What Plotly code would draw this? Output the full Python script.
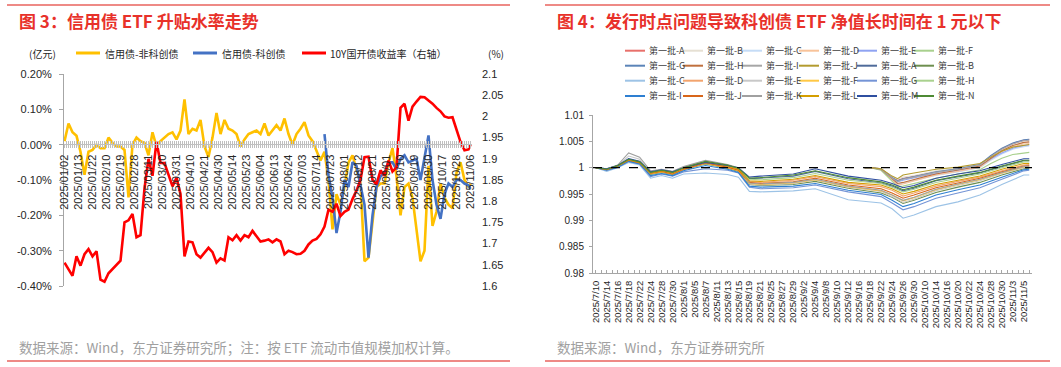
import plotly.graph_objects as go
import pandas as pd

W, H = 1061, 367


def px(x):
    return x / W


def py(y):
    return 1 - y / H


# ---------------- Figure 3 : credit-bond ETF premium/discount ----------------
cn_holidays = ["2025-01-01", "2025-01-28", "2025-01-29", "2025-01-30", "2025-01-31",
               "2025-02-03", "2025-02-04", "2025-04-04", "2025-05-01", "2025-05-02",
               "2025-05-05", "2025-06-02", "2025-10-01", "2025-10-02", "2025-10-03",
               "2025-10-06", "2025-10-07", "2025-10-08"]
trade_days = pd.bdate_range("2025-01-02", "2025-11-06", freq="C", holidays=cn_holidays)
fig3_categories = [d.strftime("%Y/%m/%d") for d in trade_days]          # 204 trading days
fig3_ticktext = [c if k % 7 == 0 else "" for k, c in enumerate(fig3_categories)]

# values read every second trading day (plus the last day)
fig3_sample_dates = fig3_categories[0:203:2] + [fig3_categories[203]]
nonsci_premium = [  # 信用债-非科创债, %
    0.01, 0.06, 0.035, 0.025, -0.02, -0.085, -0.02, -0.015, 0.0, -0.01,
    -0.01, 0.02, 0.005, -0.005, -0.005, -0.015, -0.149, 0.0, 0.02, 0.01,
    0.005, -0.03, 0.035, -0.005, 0.01, 0.02, 0.03, 0.035, 0.015, 0.04,
    0.128, 0.03, 0.045, 0.04, 0.07, -0.005, -0.035, 0.02, 0.09, 0.03,
    0.07, 0.045, 0.04, 0.03, -0.005, 0.015, 0.03, 0.035, 0.04, 0.03,
    0.06,
    0.026, 0.04, 0.055, 0.04, 0.074, 0.03, 0.0, 0.03, 0.045, 0.064,
    0.026, 0.01, -0.015, -0.045, -0.02, -0.1, -0.24, -0.14, -0.17, -0.12,
    -0.05, -0.03, -0.07, -0.11, -0.33, -0.32, -0.22, -0.12, -0.11, -0.11,
    -0.05, -0.01, -0.09, -0.2, -0.12, -0.11, -0.15, -0.24, -0.33, -0.3,
    -0.06, -0.23, -0.19, -0.11, -0.15, -0.17, -0.18, -0.08, -0.05, -0.1,
    -0.12,
    -0.11,
]
cdb10y_yield = [  # 10Y国开债收益率, %
    1.655, 1.64, 1.624, 1.67, 1.648, 1.675, 1.687, 1.67, 1.682, 1.615,
    1.61, 1.63, 1.64, 1.65, 1.66, 1.75, 1.755, 1.77, 1.715, 1.72,
    1.83, 1.9, 1.86, 1.94, 1.89, 1.89, 1.86, 1.835, 1.855, 1.817,
    1.67, 1.705, 1.703, 1.675, 1.667, 1.68, 1.69, 1.68, 1.655, 1.665,
    1.66, 1.715, 1.708, 1.72, 1.707, 1.72, 1.715, 1.73, 1.718, 1.705,
    1.707,
    1.71, 1.703, 1.71, 1.705, 1.675, 1.683, 1.68, 1.675, 1.676, 1.683,
    1.698, 1.707, 1.711, 1.722, 1.74, 1.78, 1.775, 1.794, 1.765, 1.775,
    1.78, 1.805, 1.825, 1.85, 1.904, 1.905, 1.85, 1.84, 1.873, 1.86,
    1.896, 1.87, 1.88, 2.02, 2.03, 1.99, 2.023, 2.035, 2.046, 2.045,
    2.038, 2.03, 2.02, 2.012, 2.0, 1.997, 1.998, 1.97, 1.94, 1.92,
    1.922,
    1.933,
]
sci_dates = fig3_categories[130:203:2] + [fig3_categories[203]]
sci_premium = [  # 信用债-科创债, %
    0.03, -0.087, -0.15, -0.25, -0.19, -0.1, -0.12, -0.05, -0.06, -0.12,
    -0.17, -0.32, -0.2, -0.12, -0.09, -0.08, -0.05, -0.05, -0.07, -0.04,
    -0.03, -0.05, -0.045, -0.04, -0.1, -0.04, 0.026, -0.1, -0.17, -0.21,
    -0.14, -0.11, -0.12, -0.1, -0.1, -0.11, -0.115,
    -0.125,
]
fig3_left_ticks = [0.2, 0.1, 0.0, -0.1, -0.2, -0.3, -0.4]
fig3_left_text = ["0.20%", "0.10%", "0.00%", "-0.10%", "-0.20%", "-0.30%", "-0.40%"]
fig3_right_ticks = [2.1, 2.05, 2.0, 1.95, 1.9, 1.85, 1.8, 1.75, 1.7, 1.65, 1.6]
fig3_right_text = ["2.1", "2.05", "2", "1.95", "1.9", "1.85", "1.8", "1.75", "1.7", "1.65", "1.6"]
fig3_series_names = ["信用债-非科创债", "信用债-科创债", "10Y国开债收益率（右轴）"]
fig3_colors = ["#FFC000", "#4472C4", "#FF0000"]

# ---------------- Figure 4 : sci-tech bond ETF NAV ----------------
fig4_days = [d for d in trade_days if d >= pd.Timestamp("2025-07-10")]
fig4_categories = [f"{d.year}/{d.month}/{d.day}" for d in fig4_days]   # 80 days
fig4_ticktext = [c if k % 2 == 0 else "" for k, c in enumerate(fig4_categories)]

# legend entries 1-10: NAV series that start on 2025/9/17
late_dates = ["2025/9/17", "2025/9/18", "2025/9/22", "2025/9/24", "2025/9/25", "2025/9/26",
              "2025/9/30", "2025/10/10", "2025/10/14", "2025/10/20", "2025/10/24",
              "2025/10/28", "2025/10/30", "2025/11/3", "2025/11/5", "2025/11/6"]
late_names = ["第一批-A", "第一批-B", "第一批-C", "第一批-D", "第一批-E",
              "第一批-F", "第一批-G", "第一批-H", "第一批-I", "第一批-J"]
late_colors = ["#E8706B", "#E6E0D3", "#C5DCF6", "#F8C39A", "#8FA3F2",
               "#A8D08D", "#5B84B8", "#C0703E", "#A6A6A6", "#B39B2F"]
nav_late_A = [1.0000, 1.0000, 0.9998, 0.9982, 0.9976, 0.9980, 0.9984, 0.9988, 0.9992, 0.9998, 1.0006, 1.0022, 1.0036, 1.0046, 1.0052, 1.0053]
nav_late_B = [1.0000, 1.0000, 0.9998, 0.9983, 0.9978, 0.9982, 0.9985, 0.9990, 0.9994, 0.9999, 1.0007, 1.0020, 1.0033, 1.0042, 1.0047, 1.0048]
nav_late_C = [1.0000, 1.0000, 0.9996, 0.9977, 0.9969, 0.9971, 0.9976, 0.9980, 0.9985, 0.9992, 1.0000, 1.0014, 1.0026, 1.0035, 1.0040, 1.0041]
nav_late_D = [1.0000, 1.0000, 0.9996, 0.9976, 0.9967, 0.9969, 0.9975, 0.9981, 0.9986, 0.9993, 1.0001, 1.0016, 1.0030, 1.0040, 1.0045, 1.0046]
nav_late_E = [1.0000, 1.0000, 0.9997, 0.9980, 0.9973, 0.9976, 0.9981, 0.9985, 0.9989, 0.9995, 1.0003, 1.0017, 1.0028, 1.0037, 1.0042, 1.0043]
nav_late_F = [1.0000, 1.0000, 0.9995, 0.9973, 0.9964, 0.9965, 0.9970, 0.9975, 0.9980, 0.9988, 0.9996, 1.0008, 1.0018, 1.0025, 1.0028, 1.0029]
nav_late_G = [1.0000, 1.0000, 0.9998, 0.9981, 0.9975, 0.9979, 0.9983, 0.9988, 0.9992, 0.9998, 1.0006, 1.0023, 1.0037, 1.0047, 1.0053, 1.0054]
nav_late_H = [1.0000, 1.0000, 0.9997, 0.9978, 0.9970, 0.9972, 0.9978, 0.9983, 0.9988, 0.9995, 1.0003, 1.0018, 1.0032, 1.0042, 1.0048, 1.0049]
nav_late_I = [1.0000, 1.0000, 0.9997, 0.9980, 0.9974, 0.9978, 0.9982, 0.9986, 0.9991, 0.9997, 1.0005, 1.0021, 1.0035, 1.0045, 1.0051, 1.0052]
nav_late_J = [1.0000, 1.0000, 0.9998, 0.9984, 0.9979, 0.9986, 0.9990, 0.9994, 0.9997, 1.0001, 1.0008, 1.0020, 1.0031, 1.0039, 1.0043, 1.0044]
late_navs = [nav_late_A, nav_late_B, nav_late_C, nav_late_D, nav_late_E,
             nav_late_F, nav_late_G, nav_late_H, nav_late_I, nav_late_J]

# legend entries 11-24: NAV series that start on 2025/7/10
early_dates = ["2025/7/10", "2025/7/14", "2025/7/16", "2025/7/18", "2025/7/22", "2025/7/24",
               "2025/7/28", "2025/7/30", "2025/8/1", "2025/8/7", "2025/8/13", "2025/8/15",
               "2025/8/19", "2025/8/21", "2025/8/29", "2025/9/4", "2025/9/12", "2025/9/22",
               "2025/9/24", "2025/9/26", "2025/9/30", "2025/10/14", "2025/10/20", "2025/10/24",
               "2025/10/30", "2025/11/5", "2025/11/6"]
early_names = ["第一批-A", "第一批-B", "第一批-C", "第一批-D", "第一批-E", "第一批-F", "第一批-G",
               "第一批-H", "第一批-I", "第一批-J", "第一批-K", "第一批-L", "第一批-M", "第一批-N"]
early_colors = ["#4F6B9A", "#6E8F4F", "#9DC3E6", "#F2A46E", "#C8C8C8", "#FFC845", "#7494D6",
                "#A9D18E", "#2E7FD1", "#D8661A", "#A0A0A0", "#D49E00", "#2F4FA0", "#4E8A34"]
nav_early_A = [1.0000, 0.9998, 1.0004, 1.0016, 1.0011, 0.9991, 0.9995, 0.9991, 1.0000, 1.0010, 1.0003, 0.9998, 0.9979, 0.9980, 0.9984, 0.9993, 0.9979, 0.9971, 0.9965, 0.9956, 0.9961, 0.9975, 0.9983, 0.9990, 1.0002, 1.0013, 1.0013]
nav_early_B = [1.0000, 0.9996, 1.0002, 1.0013, 1.0008, 0.9987, 0.9991, 0.9987, 0.9996, 1.0007, 0.9999, 0.9993, 0.9968, 0.9966, 0.9968, 0.9974, 0.9961, 0.9952, 0.9944, 0.9932, 0.9938, 0.9953, 0.9963, 0.9972, 0.9986, 0.9998, 0.9999]
nav_early_C = [1.0000, 0.9993, 1.0000, 1.0010, 1.0005, 0.9980, 0.9985, 0.9980, 0.9988, 0.9990, 0.9987, 0.9982, 0.9955, 0.9954, 0.9956, 0.9960, 0.9939, 0.9933, 0.9922, 0.9904, 0.9910, 0.9926, 0.9935, 0.9948, 0.9968, 0.9986, 0.9986]
nav_early_D = [1.0000, 0.9997, 1.0003, 1.0016, 1.0011, 0.9990, 0.9994, 0.9989, 0.9998, 1.0010, 1.0002, 0.9996, 0.9974, 0.9972, 0.9976, 0.9983, 0.9970, 0.9964, 0.9957, 0.9946, 0.9952, 0.9965, 0.9974, 0.9982, 0.9994, 1.0005, 1.0006]
nav_early_E = [1.0000, 0.9997, 1.0004, 1.0022, 1.0016, 0.9992, 0.9996, 0.9992, 1.0001, 1.0012, 1.0004, 0.9998, 0.9969, 0.9967, 0.9970, 0.9976, 0.9963, 0.9955, 0.9945, 0.9934, 0.9940, 0.9956, 0.9966, 0.9975, 0.9989, 1.0000, 1.0001]
nav_early_F = [1.0000, 0.9996, 1.0002, 1.0015, 1.0010, 0.9988, 0.9992, 0.9988, 0.9997, 1.0008, 1.0000, 0.9994, 0.9970, 0.9968, 0.9971, 0.9977, 0.9964, 0.9956, 0.9948, 0.9937, 0.9943, 0.9958, 0.9968, 0.9977, 0.9990, 1.0001, 1.0002]
nav_early_G = [1.0000, 0.9995, 1.0001, 1.0012, 1.0007, 0.9983, 0.9988, 0.9984, 0.9992, 0.9998, 0.9995, 0.9990, 0.9963, 0.9960, 0.9962, 0.9967, 0.9954, 0.9945, 0.9933, 0.9920, 0.9926, 0.9942, 0.9952, 0.9962, 0.9978, 0.9994, 0.9995]
nav_early_H = [1.0000, 0.9997, 1.0003, 1.0015, 1.0010, 0.9991, 0.9995, 0.9990, 0.9999, 1.0011, 1.0004, 0.9998, 0.9978, 0.9977, 0.9981, 0.9989, 0.9976, 0.9970, 0.9963, 0.9954, 0.9959, 0.9972, 0.9980, 0.9988, 1.0000, 1.0011, 1.0011]
nav_early_I = [1.0000, 0.9995, 1.0001, 1.0012, 1.0007, 0.9985, 0.9989, 0.9985, 0.9994, 1.0004, 0.9997, 0.9991, 0.9965, 0.9963, 0.9965, 0.9970, 0.9957, 0.9949, 0.9938, 0.9926, 0.9932, 0.9948, 0.9958, 0.9967, 0.9982, 0.9996, 0.9997]
nav_early_J = [1.0000, 0.9996, 1.0003, 1.0014, 1.0009, 0.9989, 0.9993, 0.9988, 0.9997, 1.0009, 1.0001, 0.9995, 0.9972, 0.9970, 0.9973, 0.9980, 0.9967, 0.9960, 0.9952, 0.9942, 0.9948, 0.9962, 0.9971, 0.9980, 0.9992, 1.0003, 1.0004]
nav_early_K = [1.0000, 0.9998, 1.0005, 1.0028, 1.0020, 0.9994, 0.9997, 0.9993, 1.0002, 1.0014, 1.0006, 1.0000, 0.9971, 0.9969, 0.9972, 0.9978, 0.9965, 0.9957, 0.9948, 0.9938, 0.9944, 0.9959, 0.9969, 0.9978, 0.9991, 1.0002, 1.0003]
nav_early_L = [1.0000, 0.9997, 1.0003, 1.0015, 1.0010, 0.9990, 0.9994, 0.9990, 0.9999, 1.0011, 1.0003, 0.9997, 0.9975, 0.9974, 0.9978, 0.9985, 0.9972, 0.9967, 0.9960, 0.9950, 0.9955, 0.9968, 0.9976, 0.9984, 0.9997, 1.0008, 1.0008]
nav_early_M = [1.0000, 0.9998, 1.0004, 1.0017, 1.0012, 0.9992, 0.9996, 0.9992, 1.0000, 1.0010, 1.0004, 1.0000, 0.9982, 0.9984, 0.9988, 0.9998, 0.9984, 0.9976, 0.9970, 0.9962, 0.9966, 0.9980, 0.9988, 0.9994, 1.0006, 1.0017, 1.0017]
nav_early_N = [1.0000, 0.9997, 1.0004, 1.0016, 1.0011, 0.9991, 0.9995, 0.9991, 1.0000, 1.0012, 1.0005, 0.9999, 0.9980, 0.9981, 0.9986, 0.9994, 0.9981, 0.9973, 0.9967, 0.9958, 0.9963, 0.9976, 0.9984, 0.9991, 1.0003, 1.0014, 1.0014]
early_navs = [nav_early_A, nav_early_B, nav_early_C, nav_early_D, nav_early_E, nav_early_F,
              nav_early_G, nav_early_H, nav_early_I, nav_early_J, nav_early_K, nav_early_L,
              nav_early_M, nav_early_N]
PAR_NAV = 1.0
fig4_yticks = [1.01, 1.005, 1.0, 0.995, 0.99, 0.985, 0.98]
fig4_ytext = ["1.01", "1.005", "1", "0.995", "0.99", "0.985", "0.98"]

# ---------------- build ----------------
LAT = "Liberation Sans, Arial, Noto Sans CJK SC"
CJK = "Noto Sans CJK SC, Liberation Sans"
TICK_C = "#262626"
AX_C = "#A6A6A6"

fig = go.Figure()
fig.add_trace(go.Scatter(x=fig3_sample_dates, y=nonsci_premium, xaxis="x", yaxis="y", mode="lines",
                         line=dict(color=fig3_colors[0], width=2.6), name=fig3_series_names[0]))
fig.add_trace(go.Scatter(x=sci_dates, y=sci_premium, xaxis="x", yaxis="y", mode="lines",
                         line=dict(color=fig3_colors[1], width=2.6), name=fig3_series_names[1]))
fig.add_trace(go.Scatter(x=fig3_sample_dates, y=cdb10y_yield, xaxis="x", yaxis="y2", mode="lines",
                         line=dict(color=fig3_colors[2], width=2.6), name=fig3_series_names[2]))
# helper trace so the tick-only overlay axis is drawn
fig.add_trace(go.Scatter(x=[fig3_categories[0]], y=[None], xaxis="x3", yaxis="y", mode="lines",
                         hoverinfo="skip", showlegend=False))

for name, col, nav in zip(late_names, late_colors, late_navs):
    fig.add_trace(go.Scatter(x=late_dates, y=nav, xaxis="x2", yaxis="y3", mode="lines",
                             line=dict(color=col, width=1.1), name=name))
for name, col, nav in zip(early_names, early_colors, early_navs):
    fig.add_trace(go.Scatter(x=early_dates, y=nav, xaxis="x2", yaxis="y3", mode="lines",
                             line=dict(color=col, width=1.1), name=name))

x3_common = dict(type="category", categoryorder="array", categoryarray=fig3_categories,
                 range=[-0.25, 203.75], anchor="free", position=py(144.3),
                 tickvals=fig3_categories, showgrid=False, zeroline=False)

fig.update_layout(
    width=W, height=H, margin=dict(l=0, r=0, t=0, b=0, autoexpand=False),
    paper_bgcolor="white", plot_bgcolor="rgba(0,0,0,0)", showlegend=False,
    font=dict(family=LAT, size=11, color=TICK_C),
    xaxis=dict(domain=[px(64), px(472)], **x3_common, ticktext=fig3_ticktext,
               showline=True, linecolor="#BFBFBF", ticks="outside", ticklen=3,
               tickcolor="#BFBFBF", tickangle=-90, ticklabelstandoff=2,
               tickfont=dict(family=LAT, size=11, color=TICK_C)),
    xaxis3=dict(overlaying="x", **x3_common, showticklabels=False, showline=False,
                ticks="inside", ticklen=3, tickcolor="#BFBFBF"),
    yaxis=dict(domain=[py(286), py(74)], anchor="x", range=[-0.4, 0.2],
               tickvals=fig3_left_ticks, ticktext=fig3_left_text, showline=True,
               linecolor=AX_C, ticks="outside", ticklen=4, tickcolor=AX_C,
               showgrid=False, zeroline=False, ticklabelstandoff=5,
               tickfont=dict(family=LAT, size=11, color=TICK_C)),
    yaxis2=dict(overlaying="y", side="right", anchor="x", range=[1.6, 2.1],
                tickvals=fig3_right_ticks, ticktext=fig3_right_text, showline=False,
                ticks="", showgrid=False, zeroline=False, ticklabelstandoff=9,
                tickfont=dict(family=LAT, size=11, color=TICK_C)),
    xaxis2=dict(domain=[px(593), px(1032)], anchor="y3", type="category",
                categoryorder="array", categoryarray=fig4_categories, range=[-0.5, 79.5],
                tickvals=fig4_categories, ticktext=fig4_ticktext, tickangle=-90,
                ticks="inside", ticklen=3, tickcolor=AX_C, showline=True, linecolor=AX_C,
                showgrid=False, zeroline=False, ticklabelstandoff=3,
                tickfont=dict(family=LAT, size=9.5, color=TICK_C)),
    yaxis3=dict(domain=[py(273), py(115)], anchor="x2", range=[0.98, 1.01],
                tickvals=fig4_yticks, ticktext=fig4_ytext, showline=True, linecolor=AX_C,
                ticks="outside", ticklen=3, tickcolor=AX_C, showgrid=False, zeroline=False,
                ticklabelstandoff=3, tickfont=dict(family=LAT, size=10, color=TICK_C)),
)

shapes = [
    dict(type="line", xref="x2 domain", yref="y3", x0=0, x1=1, y0=PAR_NAV, y1=PAR_NAV,
         line=dict(color="black", width=1.3, dash="dash")),
]
# frame rules
for (x0, x1, y) in [(7, 510, 5), (7, 510, 361), (545, 1050, 5), (545, 1050, 361)]:
    shapes.append(dict(type="line", xref="paper", yref="paper", x0=px(x0), x1=px(x1),
                       y0=py(y), y1=py(y), line=dict(color="#EE8A86", width=1.8)))

annotations = []


def text(x, y, s, size, color, family=CJK, anchor="left"):
    annotations.append(dict(x=px(x), y=py(y), xref="paper", yref="paper", text=s,
                            showarrow=False, xanchor=anchor, yanchor="middle",
                            font=dict(size=size, color=color, family=family)))


text(17, 20, "<b>图 3：信用债 ETF 升贴水率走势</b>", 17, "#E8312A")
text(555, 20, "<b>图 4：发行时点问题导致科创债 ETF 净值长时间在 1 元以下</b>", 17, "#E8312A")
text(17, 347, "数据来源：Wind，东方证券研究所；注：按 ETF 流动市值规模加权计算。", 13.5, "#A0A0A0")
text(555, 347, "数据来源：Wind，东方证券研究所", 13.5, "#A0A0A0")

# figure 3 legend
text(27, 53, "(亿元)", 10, "#262626")
text(486, 53, "(%)", 10, "#262626")
for (lx, tx), name, col in zip([(76, 103), (193, 220), (302, 328)], fig3_series_names, fig3_colors):
    shapes.append(dict(type="line", xref="paper", yref="paper", x0=px(lx), x1=px(lx + 24),
                       y0=py(53), y1=py(53), line=dict(color=col, width=3)))
    text(tx, 53, name, 10, "#262626")

# figure 4 legend: 4 rows x 6 columns
leg_names = late_names + early_names
leg_colors = late_colors + early_colors
col_x = [625, 683, 742, 799, 857, 914]
row_y = [50.7, 65.7, 80.7, 96]
for k, (name, col) in enumerate(zip(leg_names, leg_colors)):
    lx = col_x[k % 6]
    ly = row_y[k // 6]
    shapes.append(dict(type="line", xref="paper", yref="paper", x0=px(lx), x1=px(lx + 20),
                       y0=py(ly), y1=py(ly), line=dict(color=col, width=2)))
    text(lx + 21.5, ly, name, 9, "#404040")

fig.update_layout(shapes=shapes, annotations=annotations)
fig.write_html("out.html", config={"responsive": False, "displayModeBar": False},
               post_script="document.body.style.margin='0';"
                           "document.documentElement.style.overflow='hidden';")
